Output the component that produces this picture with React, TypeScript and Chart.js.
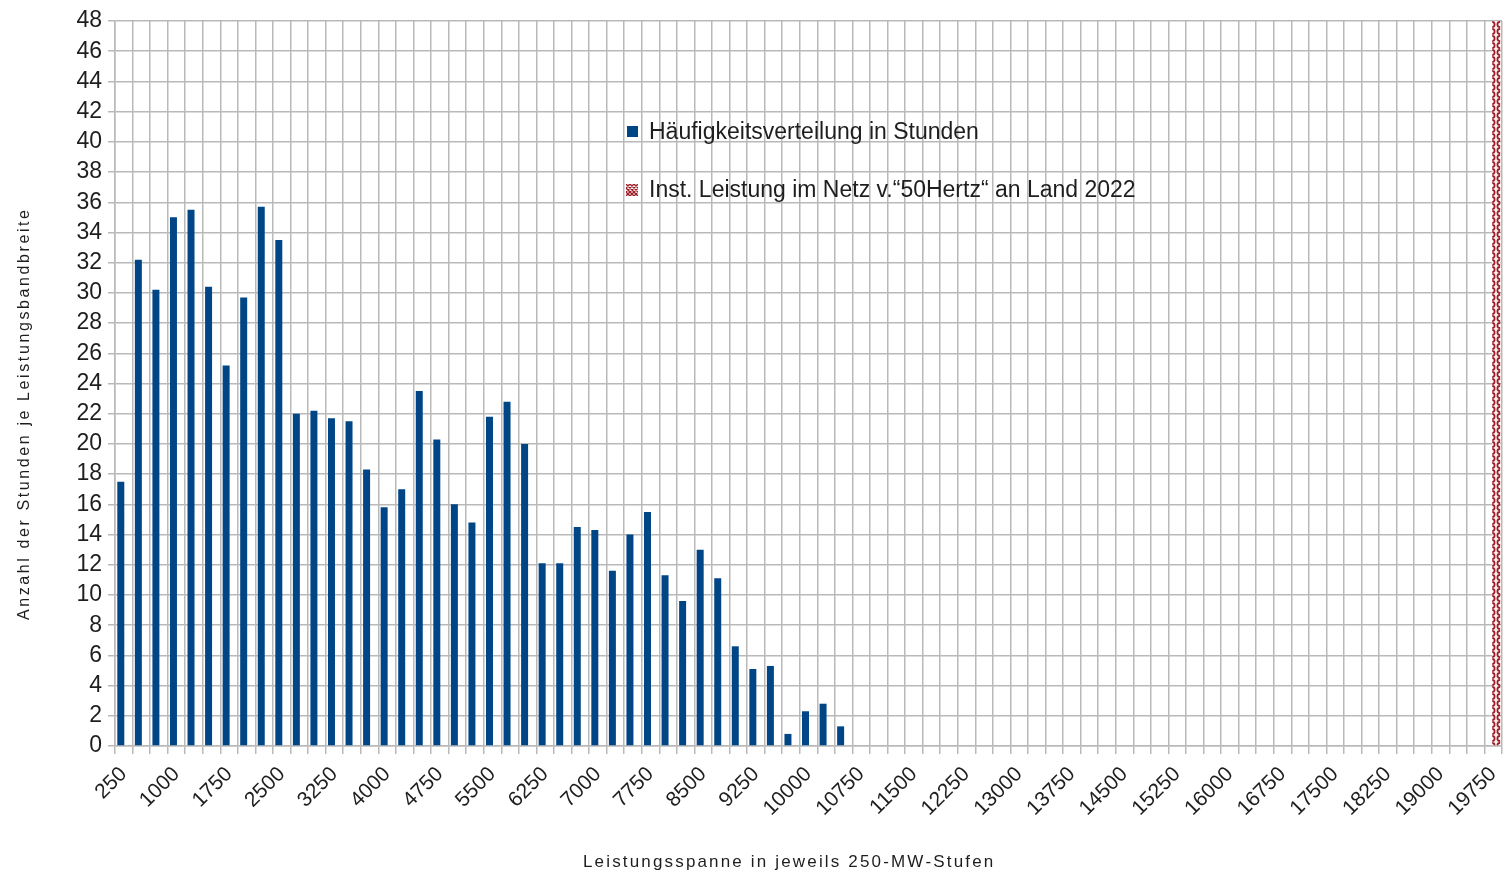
import React, { useEffect, useRef } from 'react';
import { Chart, registerables } from 'chart.js';

Chart.register(...registerables);

// Power bands (MW), one category per 250-MW step
const categories: number[] = [
  250, 500, 750, 1000, 1250, 1500, 1750, 2000, 2250, 2500,
  2750, 3000, 3250, 3500, 3750, 4000, 4250, 4500, 4750, 5000,
  5250, 5500, 5750, 6000, 6250, 6500, 6750, 7000, 7250, 7500,
  7750, 8000, 8250, 8500, 8750, 9000, 9250, 9500, 9750, 10000,
  10250, 10500, 10750, 11000, 11250, 11500, 11750, 12000, 12250, 12500,
  12750, 13000, 13250, 13500, 13750, 14000, 14250, 14500, 14750, 15000,
  15250, 15500, 15750, 16000, 16250, 16500, 16750, 17000, 17250, 17500,
  17750, 18000, 18250, 18500, 18750, 19000, 19250, 19500, 19750,
];

// Hours per power band (frequency distribution)
const hoursPerBand: number[] = [
  17.5, 32.2, 30.2, 35.0, 35.5, 30.4, 25.2, 29.7, 35.7, 33.5,
  22.0, 22.2, 21.7, 21.5, 18.3, 15.8, 17.0, 23.5, 20.3, 16.0,
  14.8, 21.8, 22.8, 20.0, 12.1, 12.1, 14.5, 14.3, 11.6, 14.0,
  15.5, 11.3, 9.6, 13.0, 11.1, 6.6, 5.1, 5.3, 0.8, 2.3,
  2.8, 1.3, 0, 0, 0, 0, 0, 0, 0, 0,
  0, 0, 0, 0, 0, 0, 0, 0, 0, 0,
  0, 0, 0, 0, 0, 0, 0, 0, 0, 0,
  0, 0, 0, 0, 0, 0, 0, 0, 0,
];

// Installed capacity marker (single hatched bar)
const installedCapacityCategory = 19750;
const installedCapacityValue = 48;

// Labelled x ticks
const xTickLabels: number[] = [
  250, 1000, 1750, 2500, 3250, 4000, 4750, 5500, 6250, 7000,
  7750, 8500, 9250, 10000, 10750, 11500, 12250, 13000, 13750, 14500,
  15250, 16000, 16750, 17500, 18250, 19000, 19750,
];

const yTicks = { min: 0, max: 48, step: 2 };

const seriesLabels = [
  'Häufigkeitsverteilung in Stunden',
  'Inst. Leistung im Netz v.“50Hertz“ an Land 2022',
];
const xTitle = 'Leistungsspanne in jeweils 250-MW-Stufen';
const yTitle = 'Anzahl der Stunden je Leistungsbandbreite';

const FONT = '"Liberation Sans", Arial, sans-serif';
const BLUE = '#004586';
const GRID = '#b9b9b9';
const TEXT = '#1e1e1e';
const HATCH_RED = '#9c1b25';
const HATCH_BG = '#fbeeee';

function makeHatch(): CanvasPattern | string {
  const c = document.createElement('canvas');
  c.width = 8;
  c.height = 7;
  const x = c.getContext('2d');
  if (!x) return HATCH_RED;
  x.fillStyle = HATCH_BG;
  x.fillRect(0, 0, 8, 7);
  x.strokeStyle = HATCH_RED;
  x.lineWidth = 1.7;
  x.beginPath();
  x.arc(4, 3.5, 2.6, 0, Math.PI * 2);
  x.stroke();
  const p = x.createPattern(c, 'repeat');
  return p || HATCH_RED;
}

function drawSpaced(ctx: CanvasRenderingContext2D, text: string, cx: number, cy: number, target: number) {
  const w = ctx.measureText(text).width;
  const n = text.length;
  const extra = n > 1 ? (target - w) / (n - 1) : 0;
  let x = cx - target / 2;
  for (const ch of text) {
    ctx.fillText(ch, x, cy);
    x += ctx.measureText(ch).width + extra;
  }
}

function drawLegendHatch(ctx: CanvasRenderingContext2D, x: number, y: number) {
  ctx.save();
  ctx.fillStyle = HATCH_BG;
  ctx.fillRect(x, y, 12, 12);
  ctx.strokeStyle = HATCH_RED;
  ctx.lineWidth = 1.3;
  ctx.beginPath();
  for (let k = -12; k <= 12; k += 4) {
    ctx.moveTo(x + k, y);
    ctx.lineTo(x + k + 12, y + 12);
    ctx.moveTo(x + k + 12, y);
    ctx.lineTo(x + k, y + 12);
  }
  ctx.save();
  ctx.rect(x, y, 12, 12);
  ctx.restore();
  ctx.restore();
  ctx.save();
  ctx.beginPath();
  ctx.rect(x, y, 12, 12);
  ctx.clip();
  ctx.strokeStyle = HATCH_RED;
  ctx.lineWidth = 1.3;
  ctx.beginPath();
  for (let k = -12; k <= 12; k += 4) {
    ctx.moveTo(x + k, y);
    ctx.lineTo(x + k + 12, y + 12);
    ctx.moveTo(x + k + 12, y);
    ctx.lineTo(x + k, y + 12);
  }
  ctx.stroke();
  ctx.restore();
}

export default function App() {
  const ref = useRef<HTMLCanvasElement | null>(null);

  useEffect(() => {
    document.body.style.margin = '0';
    const canvas = ref.current;
    if (!canvas) return;
    const hatch = makeHatch();

    const capacityData = categories.map((c) =>
      c === installedCapacityCategory ? installedCapacityValue : null
    );

    const overlay = {
      id: 'overlay',
      afterDraw(chart: any) {
        const ctx: CanvasRenderingContext2D = chart.ctx;
        ctx.save();
        // legend
        ctx.fillStyle = BLUE;
        ctx.fillRect(627, 126, 11, 11);
        drawLegendHatch(ctx, 626, 184);
        ctx.fillStyle = TEXT;
        ctx.font = `23px ${FONT}`;
        ctx.textBaseline = 'alphabetic';
        ctx.textAlign = 'left';
        ctx.fillText(seriesLabels[0], 649, 139);
        ctx.fillText(seriesLabels[1], 649, 197);
        // x title
        ctx.font = `17px ${FONT}`;
        ctx.textBaseline = 'middle';
        drawSpaced(ctx, xTitle, 788, 862, 410);
        // y title
        ctx.translate(25, 415);
        ctx.rotate(-Math.PI / 2);
        ctx.font = `16px ${FONT}`;
        drawSpaced(ctx, yTitle, 0, 0, 410);
        ctx.restore();
      },
    };

    const chart = new Chart(canvas, {
      type: 'bar',
      data: {
        labels: categories.map(String),
        datasets: [
          {
            label: seriesLabels[0],
            data: hoursPerBand,
            backgroundColor: BLUE,
            borderWidth: 0,
            categoryPercentage: 0.68,
            barPercentage: 1.17,
          },
          {
            label: seriesLabels[1],
            data: capacityData,
            backgroundColor: hatch as any,
            borderWidth: 0,
            categoryPercentage: 0.68,
            barPercentage: 1.33,
          },
        ],
      },
      options: {
        animation: false,
        responsive: false,
        maintainAspectRatio: false,
        layout: { padding: { left: 0, right: 10, top: 21, bottom: 0 } },
        plugins: {
          legend: { display: false },
          tooltip: { enabled: false },
          title: { display: false },
        },
        scales: {
          x: {
            grid: { offset: true, color: GRID, lineWidth: 1.5, tickLength: 8, drawTicks: true },
            border: { color: GRID, width: 1.5 },
            ticks: {
              autoSkip: false,
              minRotation: 45,
              maxRotation: 45,
              padding: 8,
              color: TEXT,
              font: { family: FONT, size: 21 },
              callback: (_v: any, i: number) =>
                xTickLabels.includes(categories[i]) ? String(categories[i]) : '',
            },
            afterFit: (s: any) => {
              s.height = 128;
              s.paddingRight = 0;
              s.paddingLeft = 0;
            },
          },
          y: {
            min: yTicks.min,
            max: yTicks.max,
            grid: { color: GRID, lineWidth: 1.5, tickLength: 7 },
            border: { color: GRID, width: 1.5 },
            ticks: {
              stepSize: yTicks.step,
              autoSkip: false,
              padding: 6,
              color: TEXT,
              font: { family: FONT, size: 23 },
            },
            afterFit: (s: any) => {
              s.width = 115;
            },
          },
        },
      },
      plugins: [overlay],
    });
    return () => chart.destroy();
  }, []);

  return (
    <div style={{ width: 1512, height: 874, position: 'relative' }}>
      <canvas ref={ref} width={1512} height={874} style={{ width: 1512, height: 874, display: 'block' }} />
    </div>
  );
}
